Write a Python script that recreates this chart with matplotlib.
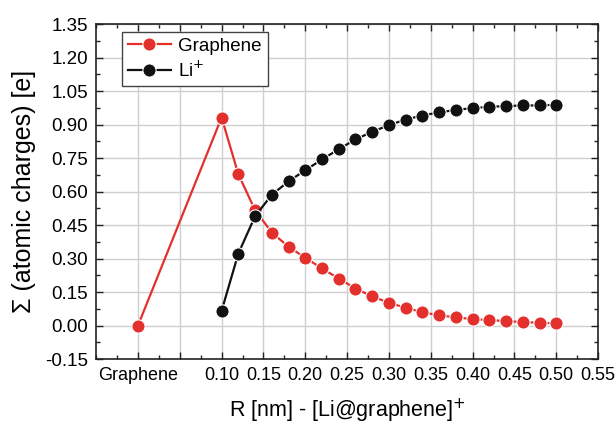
import numpy as np
import matplotlib
matplotlib.use('Agg')
import matplotlib.pyplot as plt
from matplotlib.ticker import MultipleLocator, FixedLocator

plt.rcParams['font.family'] = ['Liberation Sans', 'DejaVu Sans']

# distance R [nm]; x = 0 is the isolated graphene sheet
r_graphene = [0.0, 0.10, 0.12, 0.14, 0.16, 0.18, 0.20, 0.22, 0.24, 0.26, 0.28,
              0.30, 0.32, 0.34, 0.36, 0.38, 0.40, 0.42, 0.44, 0.46, 0.48, 0.50]
q_graphene = [0.0, 0.932, 0.678, 0.517, 0.417, 0.353, 0.304, 0.256, 0.211, 0.166, 0.131,
              0.102, 0.080, 0.060, 0.046, 0.037, 0.029, 0.025, 0.020, 0.016, 0.013, 0.010]

r_li = [0.10, 0.12, 0.14, 0.16, 0.18, 0.20, 0.22, 0.24, 0.26, 0.28,
        0.30, 0.32, 0.34, 0.36, 0.38, 0.40, 0.42, 0.44, 0.46, 0.48, 0.50]
q_li = [0.066, 0.323, 0.490, 0.586, 0.646, 0.696, 0.744, 0.790, 0.834, 0.868,
        0.898, 0.923, 0.941, 0.955, 0.966, 0.974, 0.980, 0.983, 0.986, 0.986, 0.989]

x_ticks = [0.0, 0.05, 0.10, 0.15, 0.20, 0.25, 0.30, 0.35, 0.40, 0.45, 0.50, 0.55]
x_ticklabels = ['Graphene', '', '0.10', '0.15', '0.20', '0.25', '0.30', '0.35',
                '0.40', '0.45', '0.50', '0.55']
y_ticks = [-0.15, 0.0, 0.15, 0.30, 0.45, 0.60, 0.75, 0.90, 1.05, 1.20, 1.35]

RED = '#e3302d'
BLACK = '#111111'

fig = plt.figure(figsize=(6.16, 4.24), dpi=100)
ax = fig.add_axes([0.156, 0.153, 0.815, 0.790])

style = dict(lw=1.6, marker='o', ms=9.5, mew=0.8, mec='white')
ax.plot(r_graphene, q_graphene, color=RED, mfc=RED, label='Graphene', zorder=3, **style)
ax.plot(r_li, q_li, color=BLACK, mfc=BLACK, label='Li$^{+}$', zorder=4, **style)

ax.set_xlim(-0.05, 0.55)
ax.set_ylim(-0.15, 1.35)
ax.xaxis.set_major_locator(FixedLocator(x_ticks))
ax.set_xticklabels(x_ticklabels)
ax.xaxis.set_minor_locator(MultipleLocator(0.025))
ax.yaxis.set_major_locator(FixedLocator(y_ticks))
ax.set_yticklabels(['%.2f' % v for v in y_ticks])
ax.yaxis.set_minor_locator(MultipleLocator(0.075))

ax.tick_params(which='both', direction='in', top=True, right=True,
               width=1.0, color='#222222')
ax.tick_params(which='major', length=5, pad=6)
ax.tick_params(which='minor', length=3)
ax.tick_params(axis='x', which='major', labelsize=13)
ax.tick_params(axis='y', which='major', labelsize=13.5)

ax.grid(True, which='major', color='#cfcfcf', lw=1.0)
ax.set_axisbelow(True)
for s in ax.spines.values():
    s.set_linewidth(1.2)
    s.set_color('#222222')

ax.set_xlabel('R [nm] - [Li@graphene]$^{+}$', fontsize=15.5, labelpad=9)
ax.set_ylabel('Σ (atomic charges) [e]', fontsize=18, labelpad=6)

leg = ax.legend(loc='upper left', bbox_to_anchor=(0.052, 0.976), borderaxespad=0,
                fontsize=13.5, fancybox=False, framealpha=1, edgecolor='#444444',
                handlelength=2.3, borderpad=0.3, labelspacing=0.3, handletextpad=0.4)
leg.get_frame().set_linewidth(1.0)

fig.savefig('out.png', dpi=100, facecolor='white')
